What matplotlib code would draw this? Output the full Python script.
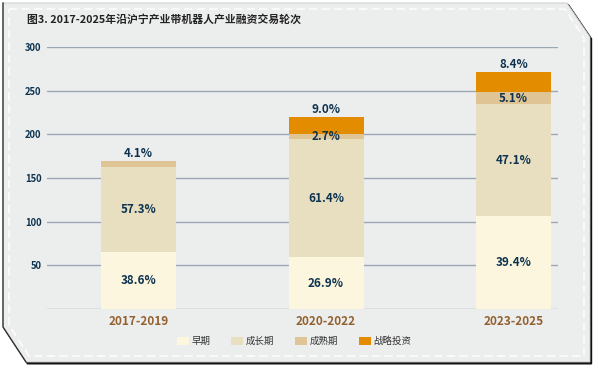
import matplotlib.pyplot as plt
from matplotlib.patches import Polygon, Patch
from matplotlib.lines import Line2D

plt.rcParams['font.family'] = ['Noto Sans CJK SC', 'DejaVu Sans']

# 数据
periods = ["2017-2019", "2020-2022", "2023-2025"]
totals = [170, 220, 271]
stages = ["早期", "成长期", "成熟期", "战略投资"]
early = [38.6, 26.9, 39.4]
growth = [57.3, 61.4, 47.1]
mature = [4.1, 2.7, 5.1]
strategic = [0.0, 9.0, 8.4]
y_ticks = [0, 50, 100, 150, 200, 250, 300]

colors = ["#fdf6de", "#e8dfc1", "#dfc595", "#e38c00"]
label_color = "#0d3350"
W, H = 598, 370

fig = plt.figure(figsize=(W / 100, H / 100), dpi=100)
fig.patch.set_facecolor("white")

def fpts(pts, dx=0, dy=0):
    return [((x + dx) / W, 1 - (y + dy) / H) for x, y in pts]

# 背景卡片（切角 + 阴影 + 白色虚线）
card = [(3, 3), (567, 3), (590, 37), (590, 362), (26, 362), (3, 327)]
fig.patches.append(Polygon(fpts(card, 1.5, 1.8), closed=True, transform=fig.transFigure,
                           facecolor="#111111", edgecolor="#111111", lw=1, zorder=0))
fig.patches.append(Polygon(fpts(card), closed=True, transform=fig.transFigure,
                           facecolor="#eceeed", edgecolor="#c4c6c6", lw=0.6, zorder=1))
# 左侧深色边线
left_edge = fpts([(3, 3), (3, 327), (26, 362)])
fig.lines.append(Line2D([p[0] for p in left_edge], [p[1] for p in left_edge],
                        transform=fig.transFigure, color="#333333", lw=1.0, zorder=2))
inner = [(9, 9), (565, 9), (584, 38), (584, 356), (29, 356), (9, 325)]
fig.patches.append(Polygon(fpts(inner), closed=True, transform=fig.transFigure,
                           facecolor="none", edgecolor="white", lw=1.0,
                           linestyle=(0, (6, 3)), zorder=2))

fig.text(27 / W, 1 - 19 / H, "图3. 2017-2025年沿沪宁产业带机器人产业融资交易轮次",
         fontsize=7.8, fontweight="bold", color="#222222", va="center", ha="left")

ax = fig.add_axes([47 / W, 1 - 309 / H, 511 / W, 262 / H])
ax.set_facecolor("none")
ax.set_zorder(3)

x = list(range(len(periods)))
series = [early, growth, mature, strategic]
bottoms = [0.0] * len(periods)
tops = []
for i in range(len(periods)):
    tops.append(max(k for k, s in enumerate(series) if s[i] > 0))

for k, s in enumerate(series):
    heights = [totals[i] * s[i] / 100 for i in range(len(periods))]
    ax.bar(x, heights, width=0.4, bottom=bottoms, color=colors[k], zorder=3, linewidth=0)
    for i in range(len(periods)):
        if s[i] <= 0:
            continue
        if k == tops[i]:
            ypos = bottoms[i] + heights[i] + 1
            va = "bottom"
        else:
            ypos = bottoms[i] + heights[i] / 2
            va = "center"
        ax.text(x[i], ypos, f"{s[i]:.1f}%", ha="center", va=va, fontsize=8.4,
                fontweight="bold", color=label_color, zorder=4)
    bottoms = [b + h for b, h in zip(bottoms, heights)]

ax.set_xlim(-0.488, 2.237)
ax.set_ylim(0, 300)
ax.set_yticks(y_ticks)
ax.set_yticklabels(["" if v == 0 else str(v) for v in y_ticks])
ax.grid(axis="y", color="#9ca7b6", lw=1.0, zorder=1)
ax.set_xticks(x)
ax.set_xticklabels(periods)
for lab in ax.get_xticklabels():
    lab.set_fontsize(8.5)
    lab.set_fontweight("bold")
    lab.set_color("#93602f")
for lab in ax.get_yticklabels():
    lab.set_fontsize(6.8)
    lab.set_fontweight("bold")
    lab.set_color(label_color)
ax.tick_params(axis="both", length=0)
ax.tick_params(axis="y", pad=4)
ax.tick_params(axis="x", pad=4)
for sp in ax.spines.values():
    sp.set_visible(False)

handles = [Patch(facecolor=c, edgecolor="none") for c in colors]
fig.legend(handles, stages, loc="center", bbox_to_anchor=(294 / W, 1 - 341 / H),
           ncol=4, frameon=False, fontsize=6.8, handlelength=1.3, handleheight=0.9,
           handletextpad=0.25, columnspacing=2.2, labelcolor="#333333")

fig.savefig("out.png", dpi=100)
